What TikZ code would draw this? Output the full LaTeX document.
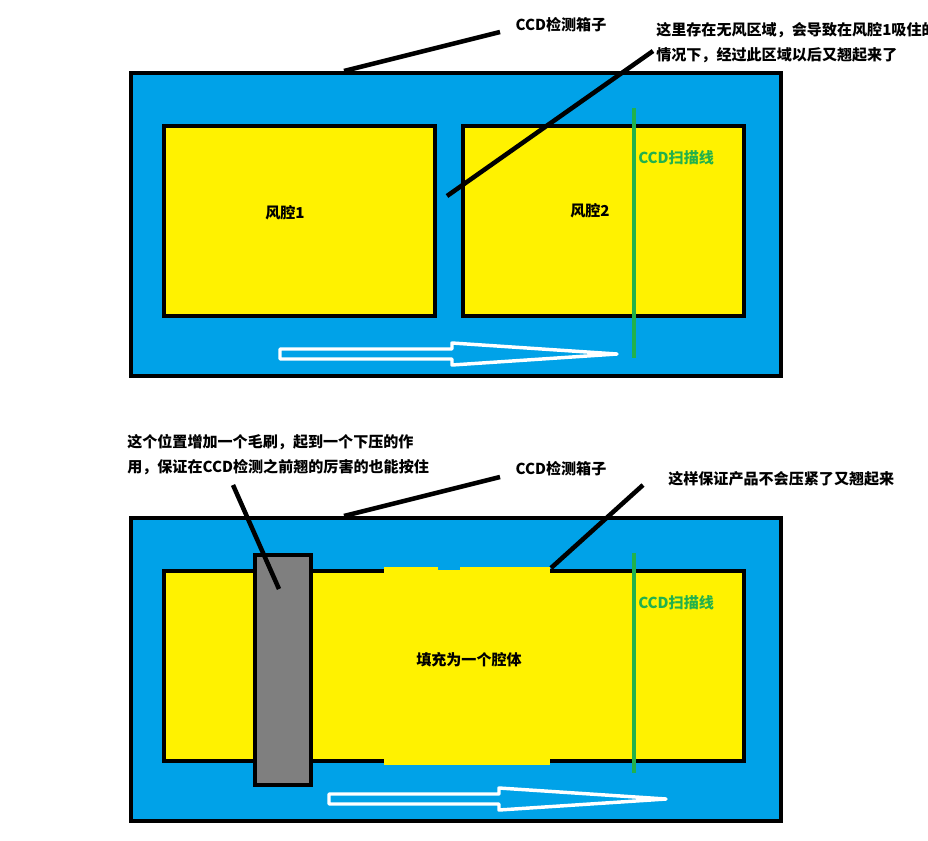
\documentclass[tikz,border=0pt]{standalone}
\usepackage{fontspec}
\newfontfamily\cjk{Noto Sans CJK SC}
\definecolor{boxblue}{HTML}{00A2E8}
\definecolor{cavyel}{HTML}{FFF200}
\definecolor{brushgray}{HTML}{7F7F7F}
\definecolor{scangreen}{HTML}{22B14C}
\tikzset{
  outerbox/.style={draw=black,line width=3pt,fill=boxblue},
  cavity/.style={draw=black,line width=3pt,fill=cavyel},
  callout/.style={draw=black,line width=3.4pt},
  scanline/.style={draw=scangreen,line width=3.2pt},
  flowarrow/.style={draw=white,line width=2.6pt,line join=round},
  lbl/.style={font=\cjk\bfseries\fontsize{11.3}{13}\selectfont,inner sep=0pt},
  greenlbl/.style={lbl,text=scangreen},
}
\begin{document}
\begin{tikzpicture}[x=0.75pt,y=-0.75pt]
\clip (0,0) rectangle (928,840);
\fill[white] (0,0) rectangle (928,840);

% ===== top diagram =====
\draw[outerbox] (131,73) rectangle (781,376);
\node[cavity,minimum width=271*0.75pt,minimum height=190*0.75pt,inner sep=0pt] (c1) at (299.5,221) {};
\node[cavity,minimum width=281*0.75pt,minimum height=190*0.75pt,inner sep=0pt] (c2) at (603.5,221) {};
\node[lbl] (t1) at (285,213) {风腔1};
\node[lbl] (t2) at (590,211) {风腔2};
\coordinate (s1a) at (634,108);
\coordinate (s1b) at (634,358);
\draw[scanline] (s1a) -- (s1b);
\node[greenlbl,anchor=west] (g1) at (638,158) {CCD扫描线};
\draw[flowarrow] (280,349) -- (452,349) -- (452,343) -- (617,354) -- (452,365) -- (452,359) -- (280,359) -- cycle;

\node[lbl] (box1) at (561,25) {CCD检测箱子};
\coordinate (b1a) at (500,32);
\coordinate (b1b) at (344,71);
\draw[callout] (b1a) -- (b1b);

\node[lbl,anchor=west] (n1a) at (656,30) {这里存在无风区域，会导致在风腔1吸住的};
\node[lbl,anchor=west] (n1b) at (656,55) {情况下，经过此区域以后又翘起来了};
\coordinate (z1a) at (653,51);
\coordinate (z1b) at (447,196);
\draw[callout] (z1a) -- (z1b);

% ===== bottom diagram =====
\draw[outerbox] (131,518) rectangle (781,821);
\node[cavity,minimum width=580*0.75pt,minimum height=190*0.75pt,inner sep=0pt] (c3) at (454,666) {};
\fill[cavyel] (384,567) rectangle (550,765);
\fill[boxblue] (438,567) rectangle (460,569.5);
\node[lbl] (t3) at (469,660) {填充为一个腔体};
\coordinate (s2a) at (634,553);
\coordinate (s2b) at (634,773);
\draw[scanline] (s2a) -- (s2b);
\node[greenlbl,anchor=west] (g2) at (638,603) {CCD扫描线};
\draw[flowarrow] (329,794) -- (499,794) -- (499,788) -- (666,799) -- (499,810) -- (499,804) -- (329,804) -- cycle;

\node[draw=black,line width=3pt,fill=brushgray,minimum width=56*0.75pt,minimum height=230*0.75pt,inner sep=0pt] (brush) at (283,670) {};

\node[lbl] (box2) at (561,469) {CCD检测箱子};
\coordinate (b2a) at (500,477);
\coordinate (b2b) at (344,516);
\draw[callout] (b2a) -- (b2b);

\node[lbl,anchor=west] (n2a) at (127,442) {这个位置增加一个毛刷，起到一个下压的作};
\node[lbl,anchor=west] (n2b) at (127,467) {用，保证在CCD检测之前翘的厉害的也能按住};
\coordinate (m1a) at (233,485);
\coordinate (m1b) at (279,589);
\draw[callout] (m1a) -- (m1b);

\node[lbl,anchor=west] (n3) at (668,479) {这样保证产品不会压紧了又翘起来};
\coordinate (p1a) at (643,485);
\coordinate (p1b) at (551,568);
\draw[callout] (p1a) -- (p1b);
\end{tikzpicture}
\end{document}
